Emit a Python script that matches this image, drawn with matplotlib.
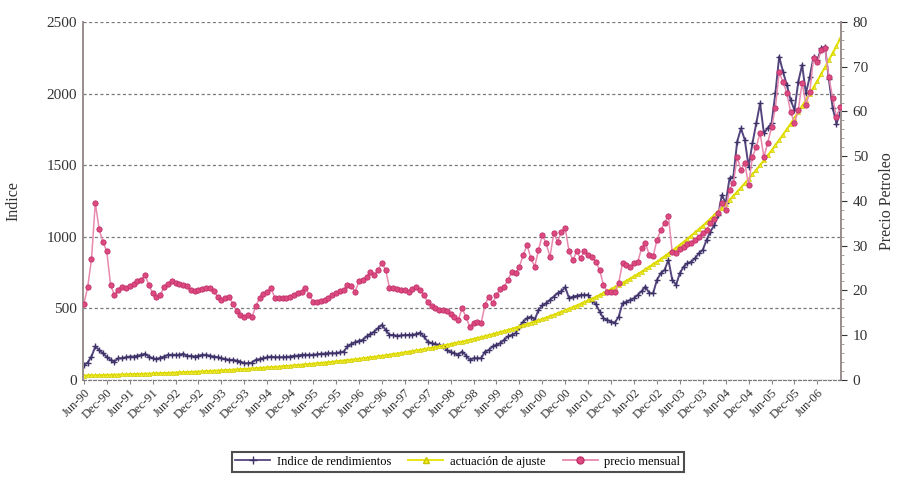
import matplotlib

matplotlib.use("Agg")
import matplotlib.pyplot as plt
from matplotlib.lines import Line2D
from matplotlib.ticker import MultipleLocator

# monthly data, Jun-1990 .. Dec-2006 (199 points), one row per 12 months
indice = [
    105, 121, 163, 233, 209, 186, 160, 140, 128, 151, 151, 158,
    163, 163, 168, 175, 182, 163, 151, 144, 155, 163, 175, 175,
    175, 175, 182, 168, 168, 163, 168, 175, 175, 168, 163, 158,
    151, 145, 140, 140, 134, 128, 116, 116, 121, 140, 145, 151,
    158, 163, 158, 158, 158, 160, 163, 168, 170, 175, 175, 175,
    175, 178, 182, 184, 186, 186, 186, 192, 198, 233, 250, 263,
    272, 280, 303, 320, 337, 361, 384, 349, 314, 314, 307, 310,
    314, 314, 314, 320, 330, 303, 267, 256, 250, 244, 233, 209,
    195, 186, 175, 198, 170, 140, 151, 151, 151, 198, 209, 233,
    245, 256, 279, 303, 315, 326, 372, 407, 430, 442, 419, 489,
    520, 535, 559, 582, 605, 620, 647, 570, 582, 587, 594, 594,
    594, 554, 530, 477, 430, 419, 407, 400, 442, 535, 545, 559,
    570, 594, 620, 652, 605, 605, 698, 745, 768, 838, 700, 663,
    745, 791, 815, 826, 850, 885, 908, 978, 1036, 1080, 1150, 1292,
    1234, 1408, 1420, 1664, 1757, 1676, 1490, 1653, 1792, 1932, 1723, 1760,
    1792, 2002, 2258, 2153, 2060, 1955, 1885, 2083, 2200, 2002, 2118, 2258,
    2235, 2316, 2328, 2100, 1900, 1790, 1870,
]

ajuste = [
    30, 30.7, 31.4, 32.1, 32.8, 33.5, 34.3, 35.0, 35.8, 36.6, 37.4, 38.3,
    39.1, 40.0, 40.9, 41.8, 42.7, 43.7, 44.6, 45.6, 46.7, 47.7, 48.8, 49.9,
    51.0, 52.1, 53.3, 54.5, 55.7, 57.0, 58.2, 59.5, 60.9, 62.2, 63.6, 65.0,
    66.5, 68.0, 69.5, 71.1, 72.6, 74.3, 75.9, 77.6, 79.4, 81.1, 82.9, 84.8,
    86.7, 88.6, 90.6, 92.6, 94.7, 96.8, 99.0, 101.2, 103.5, 105.8, 108.1, 110.6,
    113.0, 115.5, 118.1, 120.7, 123.4, 126.2, 129.0, 131.9, 134.9, 137.9, 141.0, 144.1,
    147.3, 150.6, 154.0, 157.4, 160.9, 164.5, 168.2, 171.9, 175.8, 179.7, 183.7, 187.8,
    192.1, 196.4, 200.8, 205.3, 209.9, 214.5, 219.3, 224.2, 229.3, 234.4, 239.6, 245.0,
    250.4, 256.0, 261.7, 267.6, 273.5, 279.7, 285.9, 292.3, 298.8, 305.5, 312.3, 319.3,
    326.5, 333.8, 341.3, 348.9, 356.7, 364.6, 372.8, 381.1, 389.6, 398.4, 407.3, 416.4,
    425.6, 435.1, 444.8, 454.8, 464.9, 475.3, 486.0, 496.8, 507.9, 519.3, 530.9, 542.7,
    554.9, 567.3, 580.0, 593.0, 606.2, 619.7, 633.6, 647.8, 662.2, 677.0, 692.2, 707.6,
    723.4, 739.6, 756.1, 773.0, 790.3, 807.9, 826.0, 844.4, 863.3, 882.6, 902.3, 922.5,
    943.1, 964.2, 985.7, 1007.8, 1030.3, 1053.3, 1076.8, 1100.9, 1125.5, 1150.7, 1176.4, 1202.7,
    1229.5, 1257.0, 1285.1, 1313.8, 1343.2, 1373.2, 1403.9, 1435.2, 1467.3, 1500.1, 1533.6, 1567.9,
    1602.9, 1638.7, 1675.4, 1712.8, 1751.1, 1790.2, 1830.2, 1871.1, 1912.9, 1955.7, 1999.4, 2044.1,
    2089.7, 2136.4, 2184.2, 2233.0, 2282.9, 2333.9, 2386.1,
]

precio = [
    17.0, 20.7, 27.0, 39.6, 33.7, 30.9, 28.7, 21.2, 19.0, 20.1, 20.8, 20.5,
    21.0, 21.5, 22.0, 22.3, 23.5, 21.2, 19.4, 18.6, 18.9, 20.8, 21.5, 22.0,
    21.7, 21.5, 21.2, 21.0, 20.1, 19.8, 20.1, 20.3, 20.5, 20.5, 19.8, 18.6,
    17.9, 18.3, 18.6, 17.0, 15.3, 14.6, 14.1, 14.5, 14.1, 16.4, 18.4, 19.2,
    19.7, 20.5, 18.3, 18.3, 18.4, 18.4, 18.6, 19.0, 19.4, 19.7, 20.5, 19.0,
    17.5, 17.5, 17.7, 17.9, 18.3, 19.0, 19.4, 19.8, 20.1, 21.2, 20.9, 19.7,
    22.0, 22.4, 23.0, 24.2, 23.5, 24.6, 26.1, 24.6, 20.5, 20.5, 20.3, 20.1,
    20.1, 19.7, 20.3, 20.8, 20.1, 19.0, 17.3, 16.5, 16.0, 15.6, 15.6, 15.3,
    14.8, 14.1, 13.4, 16.0, 14.1, 11.9, 12.7, 13.0, 12.7, 16.8, 18.6, 17.1,
    19.0, 20.2, 20.8, 22.3, 24.2, 23.8, 25.3, 27.9, 30.2, 27.2, 25.3, 29.0,
    32.4, 30.5, 27.5, 32.8, 30.9, 33.1, 33.9, 28.7, 26.8, 28.7, 27.2, 28.7,
    28.0, 27.4, 26.4, 24.6, 21.2, 19.7, 19.7, 19.7, 21.7, 26.1, 25.6, 25.3,
    26.1, 26.4, 29.5, 30.6, 27.9, 27.6, 31.3, 33.5, 35.1, 36.6, 28.5, 28.4,
    29.2, 29.8, 30.3, 30.6, 31.2, 32.0, 32.8, 33.5, 35.0, 36.0, 37.3, 39.6,
    38.0, 42.5, 44.0, 49.8, 46.9, 48.4, 43.6, 49.8, 52.1, 55.2, 49.8, 53.0,
    56.5, 60.8, 68.8, 66.6, 64.1, 59.9, 57.4, 60.3, 66.4, 61.5, 64.4, 72.0,
    71.0, 73.7, 74.2, 67.7, 63.0, 58.8, 61.0,
]

tick_labels = [
    "Jun-90", "Dec-90", "Jun-91", "Dec-91", "Jun-92", "Dec-92", "Jun-93", "Dec-93",
    "Jun-94", "Dec-94", "Jun-95", "Dec-95", "Jun-96", "Dec-96", "Jun-97", "Dec-97",
    "Jun-98", "Dec-98", "Jun-99", "Dec-99", "Jun-00", "Dec-00", "Jun-01", "Dec-01",
    "Jun-02", "Dec-02", "Jun-03", "Dec-03", "Jun-04", "Dec-04", "Jun-05", "Dec-05",
    "Jun-06",
]

series_names = ["Indice de rendimientos", "actuación de ajuste", "precio mensual"]

plt.rcParams["font.family"] = ["Liberation Serif", "DejaVu Serif"]

fig = plt.figure(figsize=(8.99, 4.79), dpi=100)
ax = fig.add_axes([0.092, 0.207, 0.844, 0.747])
ax2 = ax.twinx()

months = list(range(len(indice)))

purple = "#54457e"
yellow = "#e8e400"
pink = "#dd4a80"

ax.plot(months, indice, color=purple, lw=1.4, marker="+", ms=4.5, mew=1.0,
        mec="#3e3268", zorder=3)
ax.plot(months, ajuste, color=yellow, lw=1.5, marker="^", ms=3, mew=0.4,
        mfc="#f2ee20", mec="#c8c400", zorder=4)
ax2.plot(months, precio, color="#e889ae", lw=1.1, marker="o", ms=3.8, mew=0.6,
         mfc=pink, mec="#c0306a", zorder=5)

ax.set_xlim(-0.3, len(indice) - 0.7)
ax.set_ylim(0, 2500)
ax2.set_ylim(0, 80)

ax.set_yticks(range(0, 2501, 500))
ax2.set_yticks(range(0, 81, 10))
ax2.yaxis.set_minor_locator(MultipleLocator(2))

ax.set_xticks([6 * k for k in range(len(tick_labels))])
ax.set_xticklabels(tick_labels, rotation=45, ha="right", rotation_mode="anchor",
                   fontsize=9, color="#333333")

ax.yaxis.grid(True, linestyle=(0, (2.5, 2)), color="#7a7a7a", lw=0.9)
ax.set_axisbelow(True)

for a in (ax, ax2):
    a.spines["top"].set_visible(False)
    a.spines["left"].set_color("#9a9090")
    a.spines["right"].set_color("#9a9090")
    a.spines["left"].set_linewidth(1.4)
    a.spines["right"].set_linewidth(1.4)
    a.spines["bottom"].set_linestyle((0, (2.5, 2)))
    a.spines["bottom"].set_color("#7a7a7a")

ax.tick_params(axis="y", length=0, labelsize=11, colors="#333333", pad=4)
ax.tick_params(axis="x", length=3, color="#888888", pad=2)
ax2.tick_params(axis="y", which="major", length=4, labelsize=11, colors="#333333",
                pad=4)
ax2.tick_params(axis="y", which="minor", length=2, color="#9a9090")

ax.set_ylabel("Indice", fontsize=11.5, color="#333333", labelpad=18)
ax2.set_ylabel("Precio Petroleo", fontsize=11.5, color="#333333", labelpad=8)

handles = [
    Line2D([], [], color=purple, lw=1.3, marker="+", ms=6, mec="#3e3268"),
    Line2D([], [], color=yellow, lw=1.3, marker="^", ms=4, mfc="#f2ee20",
           mec="#c8c400"),
    Line2D([], [], color="#e889ae", lw=1.3, marker="o", ms=5, mfc=pink,
           mec="#c0306a"),
]
leg = fig.legend(handles, series_names, loc="center", bbox_to_anchor=(0.509, 0.036),
                 ncol=3, fontsize=9, frameon=True, fancybox=False,
                 handlelength=2.8, handletextpad=0.5, columnspacing=1.4,
                 borderpad=0.3)
leg.get_frame().set_edgecolor("#222222")
leg.get_frame().set_linewidth(1.5)

fig.savefig("out.png", dpi=100)
